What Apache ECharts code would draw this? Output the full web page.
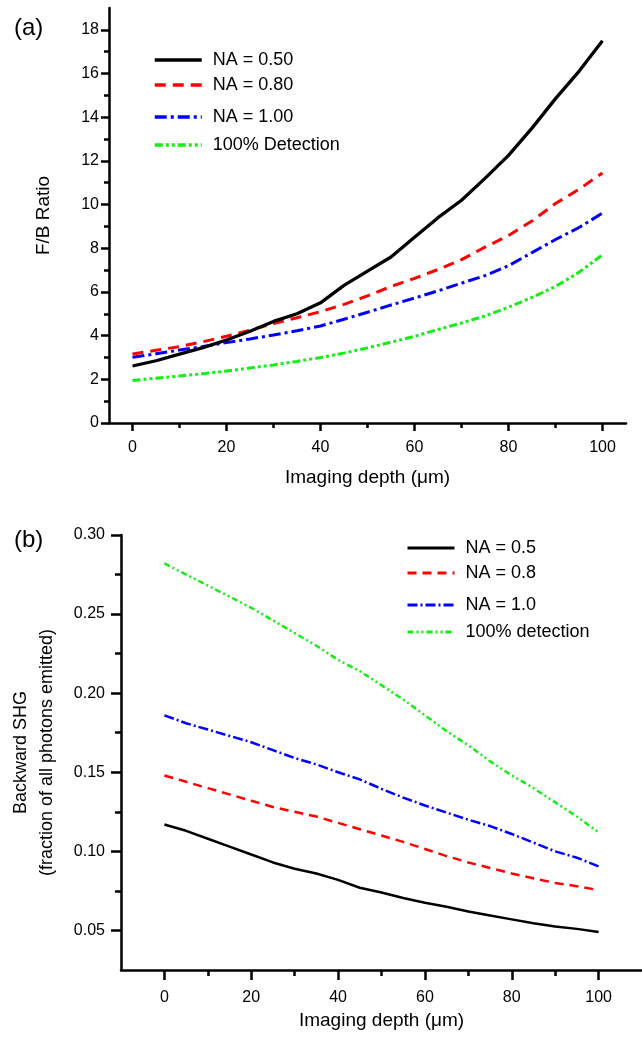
<!DOCTYPE html>
<html>
<head>
<meta charset="utf-8">
<script src="https://cdn.jsdelivr.net/npm/echarts@6/dist/echarts.min.js"></script>
<style>
html,body{margin:0;padding:0;background:#fff;}
#chart{width:642px;height:1040px;}
</style>
</head>
<body>
<div id="chart"></div>
<script>
// ---------- data ----------
const depth = [0,5,10,15,20,25,30,35,40,45,50,55,60,65,70,75,80,85,90,95,100];

// (a) F/B ratio
const fbNames = ['NA = 0.50','NA = 0.80','NA = 1.00','100% Detection'];
const fbNA050 = [2.61,2.85,3.15,3.45,3.80,4.20,4.65,5.00,5.50,6.30,6.95,7.60,8.50,9.40,10.20,11.20,12.25,13.50,14.85,16.10,17.50];
const fbNA080 = [3.16,3.33,3.50,3.72,3.97,4.25,4.55,4.82,5.10,5.43,5.82,6.25,6.62,7.03,7.48,8.05,8.58,9.25,10.05,10.70,11.45];
const fbNA100 = [3.01,3.17,3.34,3.50,3.68,3.85,4.03,4.22,4.44,4.75,5.07,5.40,5.72,6.05,6.40,6.75,7.20,7.80,8.40,8.95,9.61];
const fbFull  = [1.95,2.05,2.15,2.26,2.38,2.52,2.66,2.82,3.00,3.20,3.44,3.70,3.97,4.28,4.58,4.90,5.30,5.75,6.25,6.90,7.70];

// (b) backward SHG fraction
const bsNames = ['NA = 0.5','NA = 0.8','NA = 1.0','100% detection'];
const bsNA05 = [0.117,0.113,0.108,0.103,0.098,0.093,0.089,0.086,0.082,0.077,0.074,0.0705,0.0675,0.065,0.062,0.0595,0.057,0.0545,0.0525,0.051,0.049];
const bsNA08 = [0.148,0.144,0.140,0.136,0.132,0.128,0.125,0.122,0.118,0.114,0.110,0.106,0.1015,0.097,0.093,0.0895,0.086,0.083,0.080,0.078,0.0755];
const bsNA10 = [0.186,0.181,0.177,0.173,0.169,0.164,0.159,0.155,0.150,0.1455,0.1395,0.134,0.129,0.1245,0.120,0.116,0.111,0.1055,0.100,0.096,0.0905];
const bsFull = [0.282,0.275,0.268,0.261,0.254,0.246,0.238,0.230,0.221,0.214,0.205,0.196,0.186,0.176,0.167,0.157,0.148,0.140,0.131,0.122,0.112];

// tick values
const xMajorTicks = [0,20,40,60,80,100];
const xMinorTicks = [10,30,50,70,90];
const fbMajorTicks = [0,2,4,6,8,10,12,14,16,18];
const fbMinorTicks = [1,3,5,7,9,11,13,15,17];
const bsMajorTicks = [0.05,0.10,0.15,0.20,0.25,0.30];
const bsMinorTicks = [0.075,0.125,0.175,0.225,0.275];

// ---------- helpers ----------
const FONT = 'Arial, "Liberation Sans", Helvetica, sans-serif';
const pairs = (vals) => depth.map((d, i) => [d, vals[i]]);
const txt = (size) => ({ color: '#000', fontFamily: FONT, fontSize: size });

function axisX(grid, min, max, major, minor, tickLen, minorLen, margin, name, nameGap) {
  return [
    {
      type: 'value', gridIndex: grid, position: 'bottom', min: min, max: max,
      name: name, nameLocation: 'middle', nameGap: nameGap, nameTextStyle: txt(19),
      axisLine: { show: true, onZero: false, lineStyle: { color: '#000', width: 2.5 } },
      axisTick: { show: true, inside: false, length: tickLen, customValues: major, lineStyle: { color: '#000', width: 2.5 } },
      axisLabel: { show: true, margin: margin, customValues: major, ...txt(16) },
      splitLine: { show: false }
    },
    {
      type: 'value', gridIndex: grid, position: 'bottom', min: min, max: max,
      axisLine: { show: false, onZero: false },
      axisTick: { show: true, inside: false, length: minorLen, customValues: minor, lineStyle: { color: '#000', width: 2.5 } },
      axisLabel: { show: false },
      splitLine: { show: false }
    }
  ];
}
function axisY(grid, min, max, major, minor, tickLen, minorLen, margin, fmt, name, nameGap, nameStyle) {
  return [
    {
      type: 'value', gridIndex: grid, position: 'left', min: min, max: max,
      name: name, nameLocation: 'middle', nameGap: nameGap, nameTextStyle: nameStyle,
      axisLine: { show: true, onZero: false, lineStyle: { color: '#000', width: 2.5 } },
      axisTick: { show: true, inside: false, length: tickLen, customValues: major, lineStyle: { color: '#000', width: 2.5 } },
      axisLabel: { show: true, margin: margin, customValues: major, formatter: fmt, ...txt(16) },
      splitLine: { show: false }
    },
    {
      type: 'value', gridIndex: grid, position: 'left', min: min, max: max,
      axisLine: { show: false, onZero: false },
      axisTick: { show: true, inside: false, length: minorLen, customValues: minor, lineStyle: { color: '#000', width: 2.5 } },
      axisLabel: { show: false },
      splitLine: { show: false }
    }
  ];
}
function lineSeries(name, vals, color, type, width, xi, yi) {
  return {
    name: name, type: 'line', xAxisIndex: xi, yAxisIndex: yi,
    data: pairs(vals), symbol: 'none', smooth: false, silent: true,
    lineStyle: { color: color, width: width, type: type, cap: 'butt' },
    itemStyle: { color: color }
  };
}
function legendItem(name, left, centerY, itemW, lw) {
  return {
    data: [name], left: left, top: centerY - 10, orient: 'horizontal',
    padding: 0, itemWidth: itemW, itemHeight: 14, selectedMode: false,
    itemStyle: { opacity: 0 },
    lineStyle: { width: lw },
    textStyle: { ...txt(18), lineHeight: 20, padding: [0, 0, 0, 6] }
  };
}

const chart = echarts.init(document.getElementById('chart'), null, { renderer: 'canvas' });

const option = {
  backgroundColor: '#fff',
  animation: false,
  title: [
    { text: '(a)', left: 14, top: 16, padding: 0, textStyle: { ...txt(24), fontWeight: 'normal' } },
    { text: '(b)', left: 14, top: 528, padding: 0, textStyle: { ...txt(24), fontWeight: 'normal' } }
  ],
  grid: [
    { left: 109, right: 16, top: 8, bottom: 617, containLabel: false },
    { left: 116, right: -3, top: 535, bottom: 70, containLabel: false }
  ],
  xAxis: [
    ...axisX(0, -5, 105, xMajorTicks, xMinorTicks, 8, 5, 17, 'Imaging depth (\u03bcm)', 45),
    ...axisX(1, -10, 110, xMajorTicks, xMinorTicks, 10, 6, 20, 'Imaging depth (\u03bcm)', 41)
  ],
  yAxis: [
    ...axisY(0, 0, 19, fbMajorTicks, fbMinorTicks, 8, 5, 10, (v) => String(Math.round(v)),
      'F/B Ratio', 56, txt(19)),
    ...axisY(1, 0.025, 0.30, bsMajorTicks, bsMinorTicks, 10, 6, 16, (v) => v.toFixed(2),
      'Backward SHG\n(fraction of all photons emitted)', 61, { ...txt(18), lineHeight: 26 })
  ],
  legend: [
    legendItem(fbNames[0], 153, 60, 47, 3.5),
    legendItem(fbNames[1], 153, 85, 47, 3.5),
    legendItem(fbNames[2], 153, 117, 47, 3.5),
    legendItem(fbNames[3], 153, 145, 47, 3.5),
    legendItem(bsNames[0], 406, 548, 47, 3),
    legendItem(bsNames[1], 406, 573, 47, 3),
    legendItem(bsNames[2], 406, 605, 47, 3),
    legendItem(bsNames[3], 406, 632, 47, 3)
  ],
  series: [
    lineSeries(fbNames[3], fbFull, '#11f011', [8, 3, 3, 3, 3, 3], 3, 0, 0),
    lineSeries(fbNames[2], fbNA100, '#0000ff', [12, 4, 3, 4], 3, 0, 0),
    lineSeries(fbNames[1], fbNA080, '#ff0000', [11, 7], 3, 0, 0),
    lineSeries(fbNames[0], fbNA050, '#000000', 'solid', 3.3, 0, 0),
    lineSeries(bsNames[3], bsFull, '#11f011', [6, 3, 2, 3, 2, 3], 2.5, 2, 2),
    lineSeries(bsNames[2], bsNA10, '#0000ff', [10, 3, 2, 3], 2.5, 2, 2),
    lineSeries(bsNames[1], bsNA08, '#ff0000', [9, 6], 2.5, 2, 2),
    lineSeries(bsNames[0], bsNA05, '#000000', 'solid', 2.5, 2, 2)
  ]
};
chart.setOption(option);
</script>
</body>
</html>
